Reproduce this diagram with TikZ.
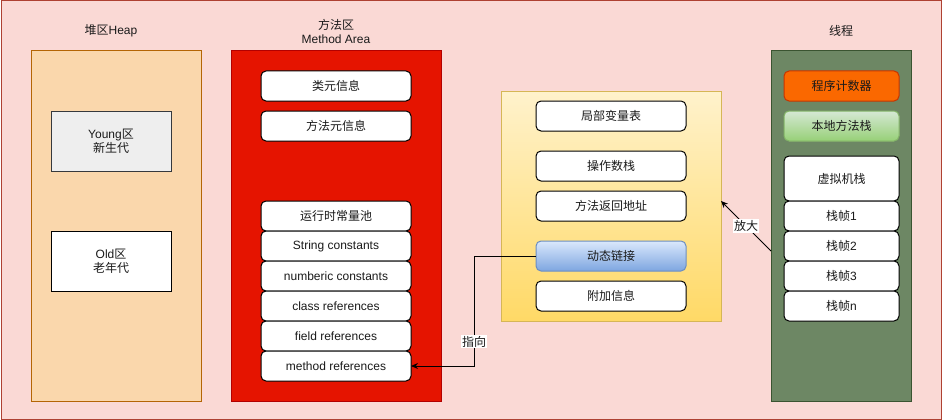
\documentclass[tikz,border=0pt]{standalone}
\usepackage{fontspec}
\setmainfont{Liberation Sans}
\newfontfamily\cjk{Noto Sans CJK SC}
\usetikzlibrary{arrows.meta,calc}
\definecolor{bgpink}{HTML}{FAD9D5}
\definecolor{bgline}{HTML}{AE4132}
\definecolor{heapfill}{HTML}{FAD7AC}
\definecolor{heapline}{HTML}{B46504}
\definecolor{mafill}{HTML}{E51400}
\definecolor{maline}{HTML}{B20000}
\definecolor{thfill}{HTML}{6D8764}
\definecolor{thline}{HTML}{3A5431}
\definecolor{pcfill}{HTML}{FA6800}
\definecolor{pcline}{HTML}{C73500}
\definecolor{yfill}{HTML}{EEEEEE}
\definecolor{yline}{HTML}{36393D}
\definecolor{fr1}{HTML}{FFF2CC}
\definecolor{fr2}{HTML}{FFD966}
\definecolor{frline}{HTML}{D6B656}
\definecolor{bl1}{HTML}{DAE8FC}
\definecolor{bl2}{HTML}{7EA6E0}
\definecolor{blline}{HTML}{6C8EBF}
\definecolor{gr1}{HTML}{D5E8D4}
\definecolor{gr2}{HTML}{97D077}
\definecolor{grline}{HTML}{82B366}
\definecolor{txt}{HTML}{1A1A1A}
\tikzset{
  base/.style={inner sep=0pt, outer sep=0pt, align=center, text=txt, font=\fontsize{12}{14}\selectfont, line width=1pt},
  region/.style={base, draw},
  plain/.style={base, draw, fill=white, minimum width=120pt, minimum height=60pt},
  rbox/.style={base, draw=black, fill=white, rounded corners=5pt, minimum width=150pt, minimum height=30pt},
  tbox/.style={base, draw=black, fill=white, rounded corners=5pt, minimum width=115pt, minimum height=30pt},
  title/.style={base, align=center},
  lbl/.style={base, fill=white, inner sep=1pt},
  arr/.style={line width=1pt, draw=black, -{Stealth[length=7pt,width=6pt]}},
}
\begin{document}
\begin{tikzpicture}[x=1pt,y=-1pt]
\useasboundingbox (0,0) rectangle (942,420);
\fill[bgpink, draw=bgline, line width=1pt] (1,1) rectangle (941,419);

% Heap
\node[region, fill=heapfill, draw=heapline, minimum width=170pt, minimum height=350pt] (heap) at (116,226) {};
\node[title] (heapt) at (111,31) {{\cjk 堆区}Heap};
\node[plain, fill=yfill, draw=yline] (young) at (111,141) {Young{\cjk 区}\\{\cjk 新生代}};
\node[plain, draw=black] (old) at (111,261) {Old{\cjk 区}\\{\cjk 老年代}};

% Method area
\node[region, fill=mafill, draw=maline, minimum width=210pt, minimum height=350pt] (ma) at (336,226) {};
\node[title] (mat) at (336,31) {{\cjk 方法区}\\Method Area};
\node[rbox] (c1) at (336,86) {\cjk 类元信息};
\node[rbox] (c2) at (336,126) {\cjk 方法元信息};
\node[rbox] (c3) at (336,216) {\cjk 运行时常量池};
\node[rbox] (c4) at (336,246) {String constants};
\node[rbox] (c5) at (336,276) {numberic constants};
\node[rbox] (c6) at (336,306) {class references};
\node[rbox] (c7) at (336,336) {field references};
\node[rbox] (mr) at (336,366) {method references};

% Stack frame (enlarged)
\node[region, draw=frline, top color=fr1, bottom color=fr2, minimum width=220pt, minimum height=230pt] (fr) at (611,206) {};
\node[rbox] (f1) at (611,116) {\cjk 局部变量表};
\node[rbox] (f2) at (611,166) {\cjk 操作数栈};
\node[rbox] (f3) at (611,206) {\cjk 方法返回地址};
\node[rbox, draw=blline, top color=bl1, bottom color=bl2] (dl) at (611,256) {\cjk 动态链接};
\node[rbox] (f5) at (611,296) {\cjk 附加信息};

% Thread
\node[region, fill=thfill, draw=thline, minimum width=140pt, minimum height=350pt] (th) at (841,226) {};
\node[title] (tht) at (841,31) {\cjk 线程};
\node[tbox, fill=pcfill, draw=pcline] (pc) at (841.5,86) {\cjk 程序计数器};
\node[tbox, draw=grline, top color=gr1, bottom color=gr2] (ns) at (841.5,126) {\cjk 本地方法栈};
\node[tbox, minimum height=45pt] (vm) at (841.5,178.5) {\cjk 虚拟机栈};
\node[tbox] (s1) at (841.5,216) {{\cjk 栈帧}1};
\node[tbox] (s2) at (841.5,246) {{\cjk 栈帧}2};
\node[tbox] (s3) at (841.5,276) {{\cjk 栈帧}3};
\node[tbox] (sn) at (841.5,306) {{\cjk 栈帧}n};

% Connectors
\coordinate (jbend) at (474,256);
\draw[arr] (dl.west) -- (jbend) |- (mr.east) node[lbl, pos=0.39] {\cjk 指向};
\draw[arr] ($(th.west)+(0,25)$) -- ($(fr.east)+(0,-5)$) node[lbl, pos=0.5] {\cjk 放大};
\end{tikzpicture}
\end{document}
